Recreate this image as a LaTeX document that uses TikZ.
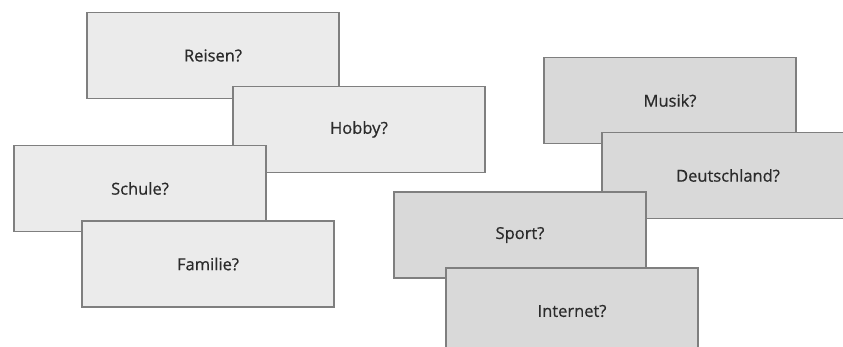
\documentclass[tikz,border=0pt]{standalone}
\usepackage{fontspec}
\setmainfont{Open Sans}
\newfontfamily\cardfont{Open Sans}[FakeBold=0.7]
\definecolor{lightbox}{HTML}{EBEBEB}
\definecolor{darkbox}{HTML}{D9D9D9}
\definecolor{edge}{HTML}{7F7F7F}
\definecolor{txt}{HTML}{2B2B2B}
\begin{document}
\begin{tikzpicture}[x=1pt,y=-1pt,
  card/.style={draw=edge, line width=1.5pt, minimum width=252pt, minimum height=86pt,
    inner sep=0pt, text=txt, font=\cardfont\fontsize{16.5}{18}\selectfont, anchor=center},
  lightcard/.style={card, fill=lightbox},
  darkcard/.style={card, fill=darkbox}]
\useasboundingbox (0,0) rectangle (843,347);
\clip (0,0) rectangle (843,347);
\fill[white] (0,0) rectangle (843,347);
\node[lightcard] (reisen) at (213,55.5) {Reisen?};
\node[lightcard] (hobby) at (359,129.5) {Hobby?};
\node[lightcard] (schule) at (140,188.5) {Schule?};
\node[lightcard] (familie) at (208,264) {Familie?};
\node[darkcard] (musik) at (670,100.5) {Musik?};
\node[darkcard] (deutschland) at (728,175.5) {Deutschland?};
\node[darkcard] (sport) at (520,235) {Sport?};
\node[darkcard] (internet) at (572,311) {Internet?};
\end{tikzpicture}
\end{document}
